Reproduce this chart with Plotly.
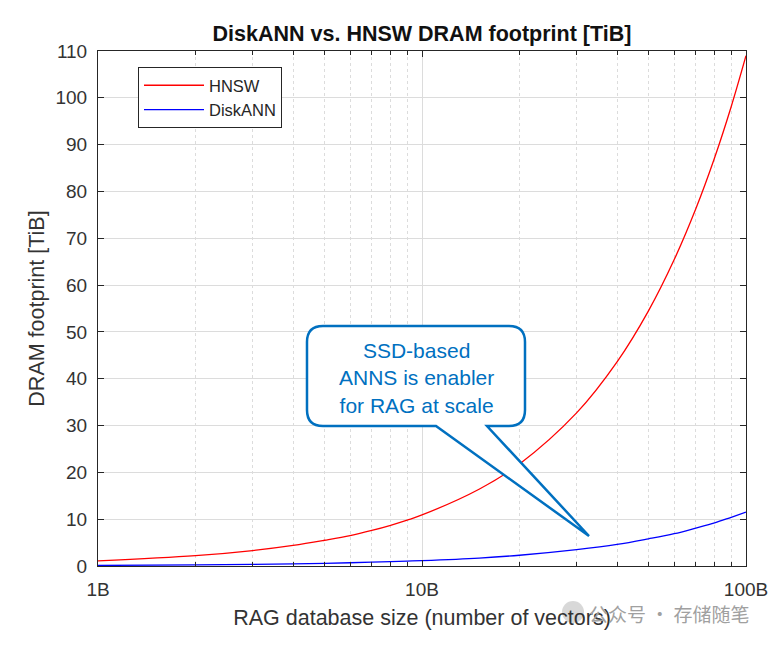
import plotly.graph_objects as go

# Data (x in billions of vectors, y in TiB)
db_size_b = [1, 2, 3, 4, 5, 6, 7, 8, 9, 10, 15, 20, 30, 40, 50, 60, 70, 80, 90, 100]
hnsw_tib = [1.1, 2.2, 3.3, 4.4, 5.5, 6.5, 7.6, 8.7, 9.8, 10.9, 16.4, 21.8, 32.7,
            43.6, 54.5, 65.4, 76.3, 87.2, 98.1, 109.0]
diskann_tib = [0.12, 0.23, 0.35, 0.46, 0.58, 0.69, 0.81, 0.92, 1.04, 1.15, 1.7, 2.3,
               3.5, 4.6, 5.8, 6.9, 8.1, 9.2, 10.4, 11.5]

x_tick_vals = [1, 10, 100]
x_tick_text = ["1B", "10B", "100B"]
x_minor_vals = [2, 3, 4, 5, 6, 7, 8, 9, 20, 30, 40, 50, 60, 70, 80, 90]
y_tick_vals = list(range(0, 111, 10))

# window coordinates; page body adds an 8px offset
OFF = 8
WIN_W, WIN_H = 784, 646
W, H = WIN_W - OFF, WIN_H - OFF
L, R, T, B = 98, 746, 51, 566  # plot area in window pixels


def px(x):
    return (x - L) / (R - L)


def py(y):
    return (B - y) / (B - T)


fig = go.Figure()
fig.add_trace(go.Scatter(x=db_size_b, y=hnsw_tib, mode="lines", name="HNSW",
                         line=dict(color="#FF0000", width=1.3, shape="spline")))
fig.add_trace(go.Scatter(x=db_size_b, y=diskann_tib, mode="lines", name="DiskANN",
                         line=dict(color="#0000FF", width=1.3, shape="spline")))

axis_col = "#262626"
tick_font = dict(family="Liberation Sans", size=19, color="#333333")
lab_font = dict(family="Liberation Sans", size=21.5, color="#333333")
fig.update_xaxes(type="log", range=[0, 2], tickvals=x_tick_vals, ticktext=x_tick_text,
                 ticks="inside", ticklen=6, tickcolor=axis_col,
                 showline=True, linecolor=axis_col, linewidth=1, mirror="ticks",
                 showgrid=True, gridcolor="#dcdcdc", gridwidth=1,
                 minor=dict(tickvals=x_minor_vals, ticks="inside", ticklen=4,
                            tickcolor=axis_col, showgrid=True, gridcolor="#dcdcdc",
                            griddash="dot", gridwidth=1),
                 tickfont=tick_font, ticklabelstandoff=6,
                 title=dict(text="RAG database size (number of vectors)",
                            font=lab_font, standoff=11),
                 zeroline=False)
fig.update_yaxes(range=[0, 110], tickvals=y_tick_vals,
                 ticks="inside", ticklen=6, tickcolor=axis_col,
                 showline=True, linecolor=axis_col, linewidth=1, mirror="ticks",
                 showgrid=True, gridcolor="#dcdcdc", gridwidth=1,
                 tickfont=tick_font, ticklabelstandoff=6,
                 title=dict(text="DRAM footprint [TiB]", font=lab_font, standoff=4),
                 zeroline=False)

# Callout bubble path (window pixels -> paper)
x0, x1, y0, y1, r = 307, 525, 326, 426, 16
bx0, bx1, tipx, tipy = 436, 487, 589, 536


def P(cmd, *xy):
    coords = []
    for i in range(0, len(xy), 2):
        coords.append(f"{px(xy[i]):.5f},{py(xy[i+1]):.5f}")
    return cmd + " " + " ".join(coords)


path = " ".join([
    P("M", x0 + r, y0),
    P("L", x1 - r, y0),
    P("Q", x1, y0, x1, y0 + r),
    P("L", x1, y1 - r),
    P("Q", x1, y1, x1 - r, y1),
    P("L", bx1, y1),
    P("L", tipx, tipy),
    P("L", bx0, y1),
    P("L", x0 + r, y1),
    P("Q", x0, y1, x0, y1 - r),
    P("L", x0, y0 + r),
    P("Q", x0, y0, x0 + r, y0),
    "Z",
])
fig.add_shape(type="path", path=path, xref="paper", yref="paper",
              line=dict(color="#0070C0", width=2.5), fillcolor="white", layer="above")

fig.add_annotation(x=px(416), y=py(378), xref="paper", yref="paper",
                   xanchor="center", yanchor="middle",
                   text="SSD-based<br>ANNS is enabler<br>for RAG at scale",
                   showarrow=False, align="center",
                   font=dict(family="Liberation Sans", size=21, color="#0070C0"))

# Watermark
fig.add_shape(type="circle", xref="paper", yref="paper",
              x0=px(562), x1=px(584), y0=py(601), y1=py(623),
              fillcolor="#c8c8c8", opacity=0.7, line=dict(width=0))
fig.add_annotation(x=px(587), y=py(613), xref="paper", yref="paper",
                   xanchor="left", yanchor="middle",
                   text="公众号 · 存储随笔", showarrow=False,
                   font=dict(family="Noto Sans CJK SC", size=19, color="#a0a0a0"))

fig.update_layout(
    width=W, height=H,
    margin=dict(l=L - OFF, r=WIN_W - R, t=T - OFF, b=WIN_H - B),
    paper_bgcolor="white", plot_bgcolor="white",
    title=dict(text="<b>DiskANN vs. HNSW DRAM footprint [TiB]</b>", x=(422 - OFF) / W,
               xanchor="center", xref="container",
               y=1 - (33 - OFF) / H, yanchor="middle", yref="container",
               font=dict(family="Liberation Sans", size=21.5, color="#111111")),
    legend=dict(x=px(138), y=py(67), xanchor="left", yanchor="top",
                bgcolor="white", bordercolor="#262626", borderwidth=1,
                font=dict(family="Liberation Sans", size=16.5, color=axis_col),
                tracegroupgap=0, itemwidth=60),
    showlegend=True,
)

fig.write_html("out.html")
